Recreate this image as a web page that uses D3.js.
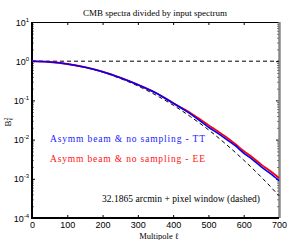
<!DOCTYPE html>
<html>
<head>
<meta charset="utf-8">
<script src="https://cdn.jsdelivr.net/npm/d3@7"></script>
<style>
  body { margin: 0; background: #fff; }
  svg { display: block; }
  .tick text { font-family: "Liberation Sans", Arial, sans-serif; font-size: 9px; }
</style>
</head>
<body>
<div id="chart"></div>
<script>
// multipoles and B_l^2
var ells = [0, 50, 100, 150, 200, 250, 300, 350, 400, 425, 450, 475, 500, 525, 550, 575, 600, 625, 650, 675, 700];
var ttValues = [1, 0.954, 0.849, 0.703, 0.540, 0.380, 0.252, 0.157, 0.085, 0.062, 0.0446, 0.0305, 0.0209, 0.0148, 0.0103, 0.0071, 0.00455, 0.0031, 0.00201, 0.00137, 0.00090];
var eeValues = [1, 0.954, 0.849, 0.703, 0.540, 0.380, 0.252, 0.157, 0.086, 0.064, 0.0473, 0.0335, 0.0234, 0.0166, 0.0116, 0.0078, 0.0051, 0.0035, 0.0023, 0.00158, 0.00105];
var beamEll = [0, 50, 100, 150, 200, 250, 300, 350, 400, 450, 500, 550, 600, 650, 700];
var beamValues = [1, 0.96, 0.85, 0.695, 0.525, 0.363, 0.234, 0.138, 0.0759, 0.038, 0.0178, 0.0076, 0.0030, 0.0011, 0.00037];
var xTicks = [0, 100, 200, 300, 400, 500, 600, 700];
var yTicks = [1e-4, 1e-3, 1e-2, 1e-1, 1, 10];
var yTickExp = ["-4", "-3", "-2", "-1", "0", "1"];
var legendLabels = ["Asymm beam & no sampling - TT", "Asymm beam & no sampling - EE", "32.1865 arcmin + pixel window (dashed)"];

var width = 289, height = 240;
var margin = {top: 22, right: 10, bottom: 22, left: 32};
var w = width - margin.left - margin.right,
		h = height - margin.top - margin.bottom;

var svg = d3.select("#chart").append("svg")
		.attr("width", width)
		.attr("height", height);

var g = svg.append("g")
		.attr("transform", "translate(" + margin.left + "," + margin.top + ")");

var x = d3.scaleLinear().domain([0, 700]).range([0, w]);
var y = d3.scaleLog().domain([1e-4, 10]).range([h, 0]);

// minor log ticks
var minor = [];
[1e-4, 1e-3, 1e-2, 1e-1, 1].forEach(function(d) {
	for (var k = 2; k < 10; k++) minor.push(d * k);
});

// axes, ticks inward
g.append("g").attr("class", "x axis")
		.attr("transform", "translate(0," + h + ")")
		.call(d3.axisBottom(x).tickValues(xTicks).tickSize(-3).tickPadding(4).tickFormat(d3.format("d")));
g.append("g").attr("class", "x2 axis")
		.call(d3.axisTop(x).tickValues(xTicks).tickSize(-3).tickFormat(""));

var yAxis = g.append("g").attr("class", "y axis")
		.call(d3.axisLeft(y).tickValues(yTicks).tickSize(-3).tickPadding(5).tickFormat(""));
yAxis.selectAll(".tick text").remove();
yAxis.selectAll(".tick").append("text")
		.attr("x", -3)
		.attr("dy", "0.35em")
		.attr("text-anchor", "end")
		.attr("fill", "#000")
		.each(function(d, i) {
			var t = d3.select(this);
			t.append("tspan").text("10");
			t.append("tspan").attr("dy", "-4").attr("font-size", "6px").text(yTickExp[i]);
		});
g.append("g").attr("class", "y2 axis")
		.attr("transform", "translate(" + w + ",0)")
		.call(d3.axisRight(y).tickValues(yTicks).tickSize(-3).tickFormat(""));
g.append("g").attr("class", "ym axis")
		.call(d3.axisLeft(y).tickValues(minor).tickSize(-1.5).tickFormat(""));
g.append("g").attr("class", "ym2 axis")
		.attr("transform", "translate(" + w + ",0)")
		.call(d3.axisRight(y).tickValues(minor).tickSize(-1.5).tickFormat(""));

g.selectAll(".domain").remove();
g.selectAll(".tick line").attr("stroke", "#000").attr("stroke-width", 1);

// frame
g.append("line").attr("x1", 0).attr("x2", w).attr("y1", 0.5).attr("y2", 0.5)
		.attr("stroke", "#000").attr("stroke-width", 1);
g.append("line").attr("x1", w + 0.5).attr("x2", w + 0.5).attr("y1", 0).attr("y2", h)
		.attr("stroke", "#888").attr("stroke-width", 2.5);
g.append("line").attr("x1", 0).attr("x2", 0).attr("y1", 0).attr("y2", h + 1)
		.attr("stroke", "#000").attr("stroke-width", 2);
g.append("line").attr("x1", -1).attr("x2", w).attr("y1", h).attr("y2", h)
		.attr("stroke", "#000").attr("stroke-width", 2);

// curves
var line = d3.line()
		.x(function(d) { return x(d[0]); })
		.y(function(d) { return y(d[1]); })
		.curve(d3.curveMonotoneX);

var plot = g.append("g").attr("class", "chart-body");

plot.append("line")
		.attr("x1", 0).attr("x2", w)
		.attr("y1", y(1)).attr("y2", y(1))
		.attr("stroke", "#000").attr("stroke-width", 1)
		.attr("stroke-dasharray", "4,3");

plot.append("path")
		.datum(beamEll.map(function(l, i) { return [l, beamValues[i]]; }))
		.attr("d", line)
		.attr("fill", "none").attr("stroke", "#000").attr("stroke-width", 1)
		.attr("stroke-dasharray", "4,3");

plot.append("path")
		.datum(ells.map(function(l, i) { return [l, eeValues[i]]; }))
		.attr("d", line)
		.attr("fill", "none").attr("stroke", "#ff0000").attr("stroke-width", 1.8);

plot.append("path")
		.datum(ells.map(function(l, i) { return [l, ttValues[i]]; }))
		.attr("d", line)
		.attr("fill", "none").attr("stroke", "#0000ff").attr("stroke-width", 1.6);

// legend texts
var serif = "Liberation Serif, DejaVu Serif, serif";
var legendPos = [{x: 50, y: 142, c: "#2020ff", len: 155}, {x: 50, y: 162, c: "#ff1010", len: 155}, {x: 102, y: 202, c: "#000", len: 158}];
svg.selectAll(".legend-text")
		.data(legendLabels)
		.enter().append("text")
		.attr("class", "legend-text")
		.attr("x", function(d, i) { return legendPos[i].x; })
		.attr("y", function(d, i) { return legendPos[i].y; })
		.attr("fill", function(d, i) { return legendPos[i].c; })
		.attr("textLength", function(d, i) { return legendPos[i].len; })
		.style("font-family", serif)
		.style("font-size", "9.5px")
		.text(function(d) { return d; });

// title and labels
svg.append("text")
		.attr("x", 155).attr("y", 16)
		.attr("text-anchor", "middle")
		.style("font-family", serif).style("font-size", "9px")
		.text("CMB spectra divided by input spectrum");

svg.append("text")
		.attr("x", 159).attr("y", 238.5)
		.attr("text-anchor", "middle")
		.style("font-family", serif).style("font-size", "8.5px")
		.text("Multipole ℓ");

var yl = svg.append("text")
		.attr("transform", "translate(11,122) rotate(-90)")
		.attr("text-anchor", "middle")
		.style("font-family", serif).style("font-size", "9px");
yl.append("tspan").text("B");
yl.append("tspan").attr("dy", "-3").attr("font-size", "6px").text("2");
yl.append("tspan").attr("dx", "-3").attr("dy", "5").attr("font-size", "6px").text("ℓ");
</script>
</body>
</html>
